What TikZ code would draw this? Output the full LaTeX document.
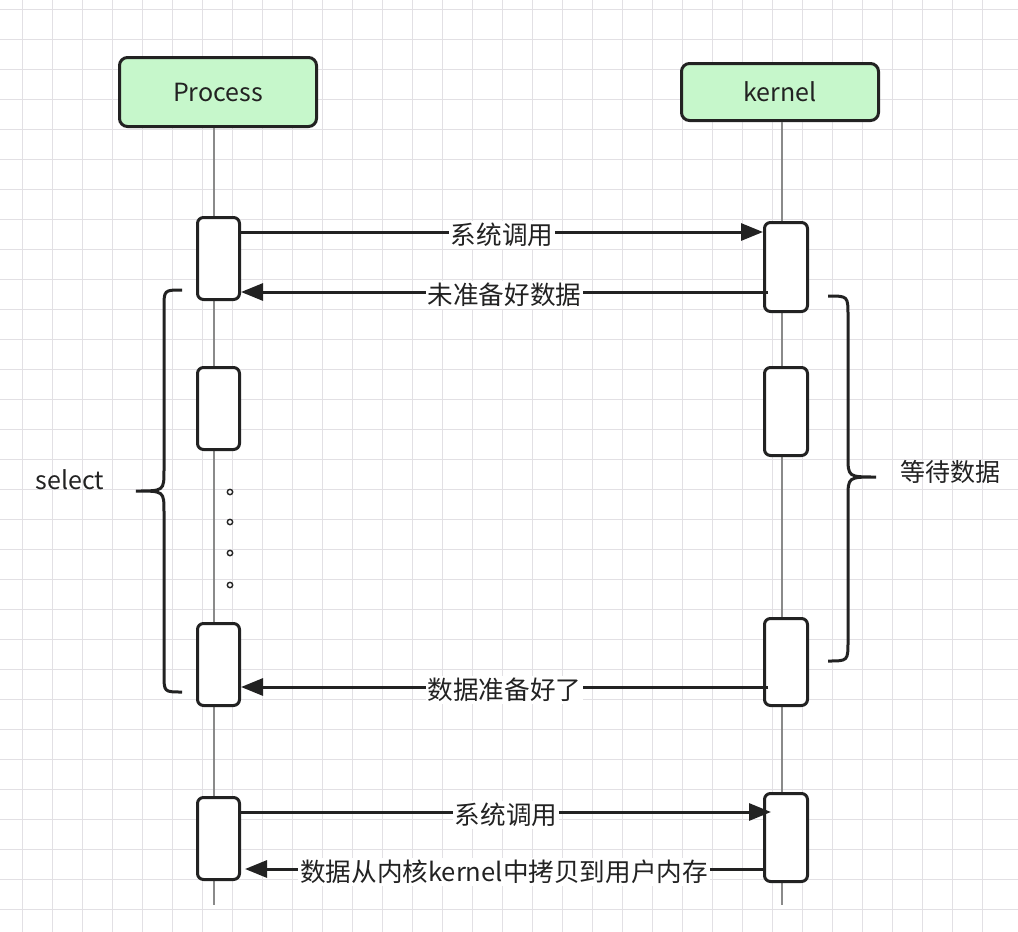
\documentclass[tikz,border=0pt]{standalone}
\usepackage{fontspec}
\setmainfont{Noto Sans CJK SC}
\usepackage{xcolor}
\usetikzlibrary{positioning,arrows.meta}
\definecolor{headgreen}{HTML}{C6F7CB}
\definecolor{gridgray}{HTML}{E2E0E4}
\definecolor{lifegray}{HTML}{8A8A8A}
\definecolor{ink}{HTML}{222222}

\begin{document}
\begin{tikzpicture}[x=1pt, y=-1pt,
  head/.style={draw=ink, line width=3pt, rounded corners=8pt, fill=headgreen,
    minimum width=197pt, text=ink, font=\fontsize{25}{30}\selectfont},
  act/.style={draw=ink, line width=3pt, rounded corners=6pt, fill=white},
  life/.style={draw=lifegray, line width=1.2pt},
  msg/.style={draw=ink, line width=3pt, -{Triangle[length=22pt,width=17pt]}},
  lbl/.style={fill=white, inner sep=2pt, yshift=-3pt, text=ink, font=\fontsize{25.6}{30}\selectfont},
  brace/.style={draw=ink, line width=3pt},
  side/.style={text=ink, font=\fontsize{25}{30}\selectfont}]
  \useasboundingbox (0,0) rectangle (1018,932);
  \fill[white] (0,0) rectangle (1018,932);
  % background grid
  \foreach \x in {22.7,52.7,...,1012} \draw[gridgray, line width=1pt] (\x,0) -- (\x,932);
  \foreach \y in {9,39,...,930} \draw[gridgray, line width=1pt] (0,\y) -- (1018,\y);

  % heads and lifelines
  \node[head, minimum height=69pt] (p) at (218,92) {Process};
  \node[head, minimum height=57pt] (k) at (780,92) {kernel};
  \coordinate (pend) at (214,905);
  \coordinate (kend) at (782,905);
  \draw[life] (p.south -| pend) -- (pend);
  \draw[life] (k.south -| kend) -- (kend);

  % activations
  \node[act, minimum width=42pt, minimum height=82pt] (p1) at (218.5,258.5) {};
  \node[act, minimum width=42pt, minimum height=82pt] (p2) at (218.5,408.5) {};
  \node[act, minimum width=42pt, minimum height=82pt] (p3) at (218.5,664.5) {};
  \node[act, minimum width=42pt, minimum height=82pt] (p4) at (218.5,838.5) {};
  \node[act, minimum width=43pt, minimum height=89pt] (k1) at (786,267) {};
  \node[act, minimum width=43pt, minimum height=88pt] (k2) at (786,411.5) {};
  \node[act, minimum width=43pt, minimum height=87pt] (k3) at (786,662) {};
  \node[act, minimum width=43pt, minimum height=88pt] (k4) at (786,837.5) {};

  % messages
  \coordinate (y1) at (0,232);
  \coordinate (y2) at (0,292);
  \coordinate (y3) at (0,687);
  \coordinate (y4) at (0,812);
  \coordinate (y5) at (0,869);
  \draw[msg] (p1.east |- y1) -- node[lbl] {系统调用} (k1.west |- y1);
  \draw[msg] ([xshift=5pt]k1.west |- y2) -- node[lbl] {未准备好数据} (p1.east |- y2);
  \draw[msg] ([xshift=5pt]k3.west |- y3) -- node[lbl] {数据准备好了} (p3.east |- y3);
  \draw[msg] (p4.east |- y4) -- node[lbl] {系统调用} ([xshift=8pt]k4.west |- y4);
  \draw[msg] (k4.west |- y5) -- node[lbl] {数据从内核kernel中拷贝到用户内存} ([xshift=4pt]p4.east |- y5);

  % dots between polls
  \foreach \y in {492,522,553,585} \draw[ink, line width=1.4pt] (230,\y) circle (2.7pt);

  % braces
  \draw[brace] (182,290) .. controls (164,290) .. (164,308) -- (164,470)
    .. controls (164,491) .. (136,491) .. controls (164,491) .. (164,512)
    -- (164,674) .. controls (164,692) .. (182,692);
  \draw[brace] (828,296) .. controls (848,296) .. (848,316) -- (848,456)
    .. controls (848,477) .. (876,477) .. controls (848,477) .. (848,498)
    -- (848,641) .. controls (848,661) .. (828,661);
  \node[side] (sel) at (70,480) {select};
  \node[side] (wait) at (950,472) {等待数据};
\end{tikzpicture}
\end{document}
